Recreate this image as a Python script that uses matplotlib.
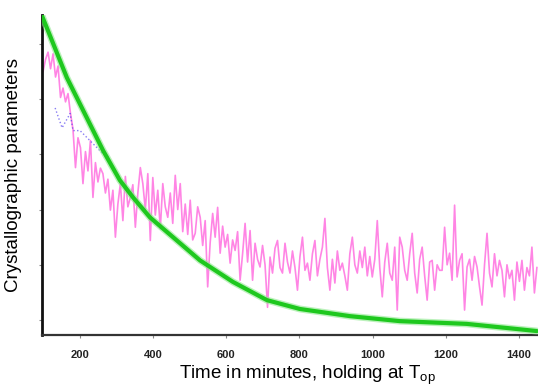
import numpy as np
import matplotlib
matplotlib.use('Agg')
import matplotlib.pyplot as plt

plt.rcParams['font.family'] = ['Liberation Sans', 'DejaVu Sans']

# green curve (smooth fit)
fit_time = [96, 164, 263, 309, 345, 391, 528, 618, 711, 801, 938, 1074, 1257, 1449]
fit_value = [5.51, 4.39, 3.07, 2.53, 2.22, 1.86, 1.08, 0.69, 0.36, 0.20, 0.07, -0.02, -0.07, -0.20]

# blue dotted series (early part only)
blue_time = [132, 151, 173, 181, 200, 227, 263, 282]
blue_value = [3.84, 3.48, 3.74, 3.43, 3.43, 3.25, 3.01, 2.94]

# noisy magenta measurement, regularly sampled from ~99 to ~1449 min
mag_value = [
    4.50, 4.72, 4.85, 4.55, 4.82, 4.40, 4.60, 4.03, 4.20, 3.95, 4.10, 3.74,
    3.45, 2.76, 3.30, 3.12, 2.47, 3.05, 2.70, 3.25, 2.22, 2.85, 2.50, 2.75,
    2.65, 2.30, 2.55, 1.99, 2.35, 1.50, 2.10, 2.47, 1.80, 2.60, 2.05, 2.22,
    2.45, 1.68, 2.30, 2.76, 2.47, 2.00, 2.65, 1.44, 2.58, 1.90, 2.35, 1.65,
    2.47, 2.05, 1.86, 2.30, 1.75, 2.62, 2.00, 2.47, 1.60, 2.10, 1.55, 2.17,
    1.45, 1.57, 2.05, 1.86, 1.35, 1.80, 0.60, 1.40, 1.93, 1.50, 2.04, 1.21,
    1.70, 1.32, 1.55, 1.03, 1.45, 1.26, 1.60, 0.72, 1.20, 1.75, 1.05, 1.62,
    0.72, 1.39, 1.10, 0.96, 1.35, 1.00, 0.23, 1.14, 0.85, 1.30, 1.44, 0.95,
    0.85, 1.39, 1.05, 0.85, 1.25, 0.95, 0.54, 1.15, 1.50, 0.90, 1.03, 0.72,
    1.20, 1.44, 0.80, 1.10, 1.32, 1.84, 0.95, 0.54, 1.10, 0.67, 1.25, 0.90,
    1.03, 0.80, 0.54, 1.20, 1.50, 1.00, 0.85, 1.25, 0.95, 1.32, 0.80, 1.15,
    0.78, 1.10, 1.80, 0.95, 0.42, 1.05, 1.39, 0.85, 0.72, 1.32, 0.18, 1.50,
    1.32, 0.90, 0.72, 1.20, 1.57, 0.85, 0.49, 1.10, 1.32, 0.80, 0.36, 1.05,
    1.08, 0.54, 1.00, 0.90, 0.90, 1.68, 1.00, 1.21, 0.72, 2.08, 0.78, 1.08,
    1.20, 0.18, 0.96, 1.10, 0.72, 1.15, 0.96, 0.60, 0.27, 1.00, 1.57, 0.85,
    0.60, 1.20, 0.80, 1.08, 0.90, 0.42, 1.00, 0.75, 0.90, 0.36, 1.05, 0.70,
    1.08, 0.54, 0.95, 0.80, 1.32, 0.49, 0.95,
]
mag_time = np.linspace(99, 1449, len(mag_value))

xticks = [200, 400, 600, 800, 1000, 1200, 1400]
yticks = [0, 1, 2, 3, 4, 5]

fig = plt.figure(figsize=(5.38, 3.89), dpi=100)
ax = fig.add_axes([0.078, 0.139, 0.922, 0.822])

ax.plot(mag_time, mag_value, color='#ff70e0', lw=1.2, alpha=0.85, zorder=2)
ax.plot(blue_time, blue_value, color='#5544ee', lw=1.0, ls=':', alpha=0.7, zorder=3)
ax.plot(fit_time, fit_value, color='#8fe88f', lw=5, alpha=0.6, zorder=4, solid_capstyle='round')
ax.plot(fit_time, fit_value, color='#1ec81e', lw=3, zorder=5, solid_capstyle='round')

ax.set_xlim(96, 1452)
ax.set_ylim(-0.27, 5.52)
ax.set_xticks(xticks)
ax.set_yticks(yticks)
ax.set_yticklabels([])
ax.tick_params(axis='x', length=2, pad=9, labelsize=8, color='#888888')
ax.tick_params(axis='y', length=2, color='#888888')
for lbl in ax.get_xticklabels():
    lbl.set_fontweight('bold')
    lbl.set_color('#222222')

ax.spines['top'].set_visible(False)
ax.spines['right'].set_visible(False)
ax.spines['left'].set_linewidth(2)
ax.spines['bottom'].set_linewidth(1.6)
ax.spines['left'].set_color('#111111')
ax.spines['bottom'].set_color('#333333')

ax.set_xlabel('Time in minutes, holding at T$_{\\mathregular{op}}$', fontsize=13.5)
ax.xaxis.set_label_coords(0.536, -0.088)
ax.set_ylabel('Crystallographic parameters', fontsize=13.5, labelpad=9)

plt.savefig('out.png', dpi=100)
